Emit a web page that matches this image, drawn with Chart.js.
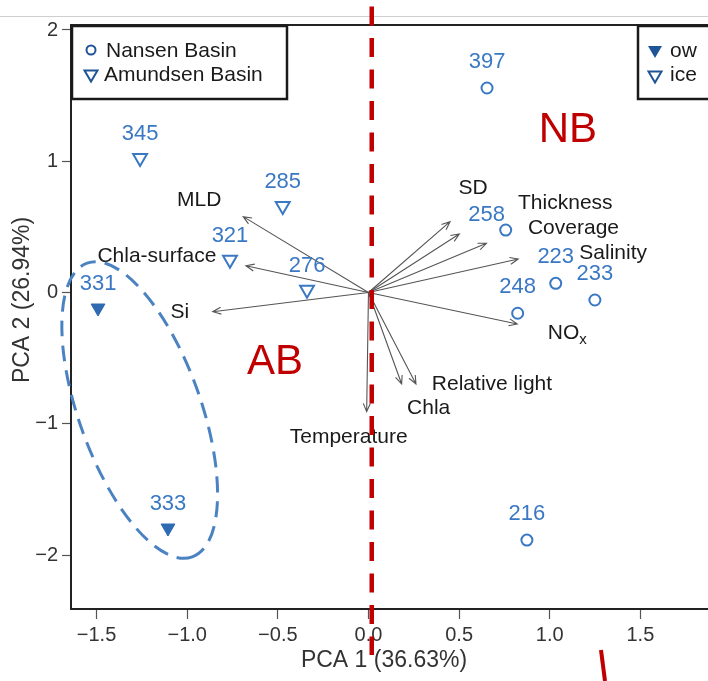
<!DOCTYPE html>
<html>
<head>
<meta charset="utf-8">
<script src="https://cdn.jsdelivr.net/npm/chart.js@4.4.1/dist/chart.umd.min.js"></script>
<style>
  html, body { margin: 0; padding: 0; background: #fff; }
  #wrap { width: 708px; height: 681px; }
</style>
</head>
<body>
<div id="wrap"><canvas id="pca" width="708" height="681"></canvas></div>
<script>
// station scores
const nansenIds = ['397', '258', '223', '233', '248', '216'];
const nansenX = [0.654, 0.757, 1.033, 1.249, 0.823, 0.874];
const nansenY = [1.558, 0.476, 0.070, -0.057, -0.158, -1.886];

const amIceIds = ['345', '285', '321', '276'];
const amIceX = [-1.260, -0.473, -0.764, -0.339];
const amIceY = [1.025, 0.659, 0.250, 0.021];

const amOwIds = ['331', '333'];
const amOwX = [-1.492, -1.106];
const amOwY = [-0.118, -1.794];

// variable loadings (arrows)
const varNames = ['MLD', 'Chla-surface', 'Si', 'SD', 'Thickness', 'Coverage', 'Salinity', 'NOx', 'Relative light', 'Chla', 'Temperature'];
const varX = [-0.691, -0.676, -0.859, 0.450, 0.501, 0.651, 0.826, 0.821, 0.262, 0.183, -0.010];
const varY = [0.578, 0.204, -0.146, 0.540, 0.446, 0.375, 0.255, -0.240, -0.697, -0.697, -0.908];

const xTicks = [-1.5, -1.0, -0.5, 0, 0.5, 1.0, 1.5];
const yTicks = [-2, -1, 0, 1, 2];

const FONT = '"Liberation Sans", Arial, Helvetica, sans-serif';
const BLUE = '#3a78c4';
const NAVY = '#1f5596';
const RED = '#c00000';

const toPts = (xs, ys) => xs.map((x, i) => ({ x, y: ys[i] }));
const minus = s => s.replace('-', '\u2212');

// label nudges in px
const varLabelOffset = {
  'MLD': [-44, -16], 'Chla-surface': [-89, -10], 'Si': [-33, 1], 'SD': [23, -33],
  'Thickness': [106, -31], 'Coverage': [87, -15], 'Salinity': [95, -6], 'NOx': [50, 9],
  'Relative light': [76, 0], 'Chla': [27, 24], 'Temperature': [-18, 25]
};
const idOffset = { '258': [-19, -15] };

function triDown(ctx, cx, cy, w, h, fill) {
  ctx.beginPath();
  ctx.moveTo(cx - w, cy - h / 2);
  ctx.lineTo(cx + w, cy - h / 2);
  ctx.lineTo(cx, cy + h / 2);
  ctx.closePath();
  if (fill) { ctx.fillStyle = NAVY; ctx.fill(); }
  else { ctx.strokeStyle = NAVY; ctx.lineWidth = 2; ctx.stroke(); }
}

const biplot = {
  id: 'biplot',
  beforeDatasetsDraw(chart) {
    const { ctx, scales: { x, y } } = chart;
    const ox = x.getPixelForValue(0), oy = y.getPixelForValue(0);
    ctx.save();
    // loading arrows
    ctx.strokeStyle = '#555';
    ctx.lineWidth = 1.1;
    varNames.forEach((n, i) => {
      const tx = x.getPixelForValue(varX[i]), ty = y.getPixelForValue(varY[i]);
      const a = Math.atan2(ty - oy, tx - ox);
      ctx.beginPath();
      ctx.moveTo(ox, oy); ctx.lineTo(tx, ty);
      ctx.moveTo(tx - 9 * Math.cos(a - 0.4), ty - 9 * Math.sin(a - 0.4));
      ctx.lineTo(tx, ty);
      ctx.lineTo(tx - 9 * Math.cos(a + 0.4), ty - 9 * Math.sin(a + 0.4));
      ctx.stroke();
    });
    // variable names
    ctx.fillStyle = '#1a1a1a';
    ctx.textBaseline = 'middle';
    varNames.forEach((n, i) => {
      const tx = x.getPixelForValue(varX[i]), ty = y.getPixelForValue(varY[i]);
      const [dx, dy] = varLabelOffset[n];
      if (n === 'NOx') {
        ctx.font = '21px ' + FONT;
        const w1 = ctx.measureText('NO').width;
        ctx.font = '15px ' + FONT;
        const w2 = ctx.measureText('x').width;
        const sx = tx + dx - (w1 + w2) / 2;
        ctx.textAlign = 'left';
        ctx.font = '21px ' + FONT;
        ctx.fillText('NO', sx, ty + dy);
        ctx.font = '15px ' + FONT;
        ctx.fillText('x', sx + w1, ty + dy + 7);
      } else {
        ctx.font = '21px ' + FONT;
        ctx.textAlign = 'center';
        ctx.fillText(n, tx + dx, ty + dy);
      }
    });
    // dashed ellipse round the open-water stations
    const ex = x.getPixelForValue(-1.262), ey = y.getPixelForValue(-0.895);
    ctx.strokeStyle = '#4a82c2';
    ctx.lineWidth = 3;
    ctx.setLineDash([16, 9]);
    ctx.beginPath();
    ctx.ellipse(ex, ey, 156, 61, 70.3 * Math.PI / 180, 0, Math.PI * 2);
    ctx.stroke();
    ctx.restore();
  },
  afterDatasetsDraw(chart) {
    const { ctx, scales: { x, y }, chartArea: ca } = chart;
    ctx.save();
    // station ids
    ctx.font = '22px ' + FONT;
    ctx.fillStyle = BLUE;
    ctx.textAlign = 'center';
    ctx.textBaseline = 'middle';
    const put = (ids, xs, ys, dy) => ids.forEach((id, i) => {
      const [ox, oy] = idOffset[id] || [0, dy];
      ctx.fillText(id, x.getPixelForValue(xs[i]) + ox, y.getPixelForValue(ys[i]) + oy);
    });
    put(nansenIds, nansenX, nansenY, -26);
    put(amIceIds, amIceX, amIceY, -24);
    put(amOwIds, amOwX, amOwY, -24);

    // basin tags
    ctx.font = '42px ' + FONT;
    ctx.fillStyle = RED;
    ctx.fillText('NB', x.getPixelForValue(1.10), y.getPixelForValue(1.238));
    ctx.fillText('AB', x.getPixelForValue(-0.516), y.getPixelForValue(-0.53));

    // top frame line
    ctx.strokeStyle = '#222';
    ctx.lineWidth = 2;
    ctx.beginPath();
    ctx.moveTo(ca.left, ca.top); ctx.lineTo(chart.width, ca.top);
    ctx.stroke();

    // legend boxes
    ctx.lineWidth = 2.5;
    ctx.strokeStyle = '#1a1a1a';
    ctx.strokeRect(ca.left + 1, ca.top + 1, 215, 73);
    ctx.strokeRect(638, ca.top + 1, 90, 73);
    ctx.font = '21px ' + FONT;
    ctx.fillStyle = '#1a1a1a';
    ctx.textAlign = 'left';
    ctx.fillText('Nansen Basin', 106, 51);
    ctx.fillText('Amundsen Basin', 104, 75);
    ctx.fillText('ow', 670, 51);
    ctx.fillText('ice', 670, 75);
    ctx.strokeStyle = NAVY;
    ctx.lineWidth = 2;
    ctx.beginPath();
    ctx.arc(91, 50, 4.5, 0, Math.PI * 2);
    ctx.stroke();
    triDown(ctx, 91, 76, 6.5, 11, false);
    triDown(ctx, 655, 52, 7, 12, true);
    triDown(ctx, 655, 77, 6.5, 11, false);

    // axis titles
    ctx.fillStyle = '#333';
    ctx.font = '23px ' + FONT;
    ctx.textAlign = 'center';
    ctx.fillText('PCA 1 (36.63%)', 384, 661);
    ctx.save();
    ctx.translate(23, 300);
    ctx.rotate(-Math.PI / 2);
    ctx.fillText('PCA 2 (26.94%)', 0, 0);
    ctx.restore();
    ctx.restore();
  },
  afterDraw(chart) {
    const { ctx, scales: { x } } = chart;
    const rx = x.getPixelForValue(0.018);
    ctx.save();
    // page separator
    ctx.strokeStyle = '#cfcfcf';
    ctx.lineWidth = 1;
    ctx.beginPath();
    ctx.moveTo(0, 16.5); ctx.lineTo(chart.width, 16.5);
    ctx.stroke();
    // red divider
    ctx.strokeStyle = RED;
    ctx.lineWidth = 4.5;
    ctx.setLineDash([19, 12.5]);
    ctx.beginPath();
    ctx.moveTo(rx, 6.5); ctx.lineTo(rx, 655);
    ctx.stroke();
    // hand-drawn mark below the axis
    ctx.setLineDash([]);
    ctx.lineWidth = 4;
    ctx.beginPath();
    ctx.moveTo(601, 650); ctx.lineTo(605, 681);
    ctx.stroke();
    ctx.restore();
  }
};

const noPad = s => { s.paddingLeft = 0; s.paddingRight = 0; s.paddingTop = 0; s.paddingBottom = 0; };

new Chart(document.getElementById('pca').getContext('2d'), {
  type: 'scatter',
  data: {
    datasets: [
      { label: 'Nansen Basin', data: toPts(nansenX, nansenY), pointStyle: 'circle', pointRadius: 5.5, borderWidth: 2, borderColor: BLUE, backgroundColor: 'rgba(0,0,0,0)' },
      { label: 'Amundsen Basin ice', data: toPts(amIceX, amIceY), pointStyle: 'triangle', rotation: 180, pointRadius: 8, borderWidth: 2, borderColor: BLUE, backgroundColor: 'rgba(0,0,0,0)' },
      { label: 'Amundsen Basin ow', data: toPts(amOwX, amOwY), pointStyle: 'triangle', rotation: 180, pointRadius: 8, borderWidth: 1, borderColor: '#2e6bb2', backgroundColor: '#2e6bb2' },
    ]
  },
  options: {
    responsive: false,
    animation: false,
    layout: { autoPadding: false, padding: { top: 25, right: 0, bottom: 0, left: 0 } },
    plugins: { legend: { display: false }, tooltip: { enabled: false } },
    scales: {
      x: {
        type: 'linear', min: -1.641, max: 1.873,
        afterFit: s => { s.height = 72; noPad(s); },
        afterBuildTicks: s => { s.ticks = xTicks.map(v => ({ value: v })); },
        grid: { drawOnChartArea: false, drawTicks: true, tickLength: 10, tickColor: '#555', tickWidth: 1.2 },
        border: { display: true, color: '#222', width: 2 },
        ticks: { color: '#333', font: { family: FONT, size: 20 }, padding: 4, maxRotation: 0, autoSkip: false, callback: v => minus(v.toFixed(1)) }
      },
      y: {
        type: 'linear', min: -2.411, max: 2.038,
        afterFit: s => { s.width = 71; noPad(s); },
        afterBuildTicks: s => { s.ticks = yTicks.map(v => ({ value: v })); },
        grid: { drawOnChartArea: false, drawTicks: true, tickLength: 9, tickColor: '#555', tickWidth: 1.2 },
        border: { display: true, color: '#222', width: 2 },
        ticks: { color: '#333', font: { family: FONT, size: 20 }, padding: 4, autoSkip: false, callback: v => minus(String(v)) }
      }
    }
  },
  plugins: [biplot]
});
</script>
</body>
</html>
